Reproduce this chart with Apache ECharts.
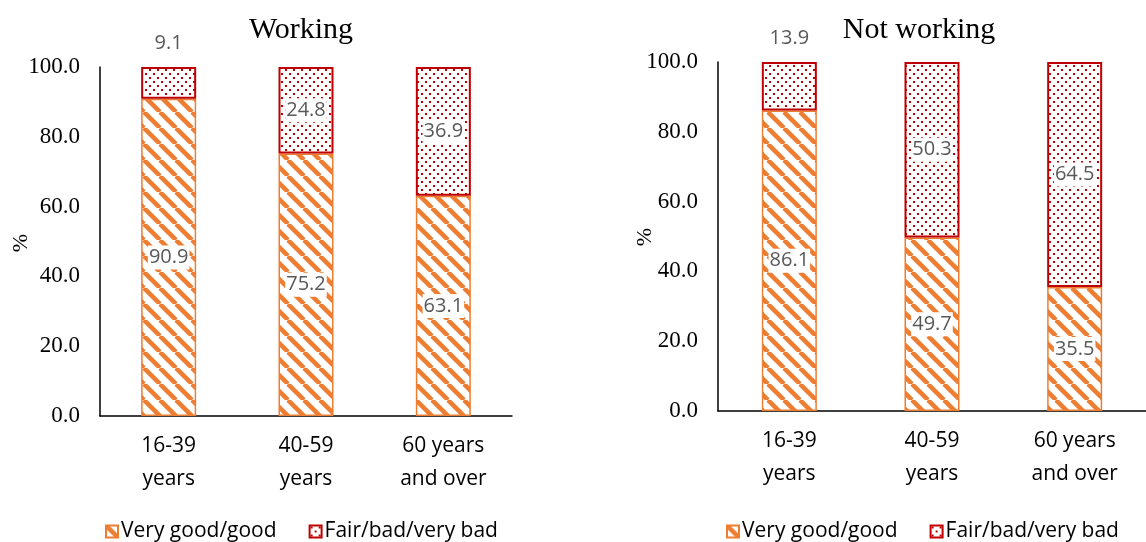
<!DOCTYPE html>
<html>
<head>
<meta charset="utf-8">
<script src="https://cdn.jsdelivr.net/npm/echarts@6/dist/echarts.min.js"></script>
<style>
  html, body { margin: 0; padding: 0; background: #fff; }
  #chart { width: 1146px; height: 542px; }
</style>
</head>
<body>
<div id="chart"></div>
<script>
const categories = ['16-39\nyears', '40-59\nyears', '60 years\nand over'];
const seriesNames = ['Very good/good', 'Fair/bad/very bad'];
const workingGood = [90.9, 75.2, 63.1];
const workingBad = [9.1, 24.8, 36.9];
const notWorkingGood = [86.1, 49.7, 35.5];
const notWorkingBad = [13.9, 50.3, 64.5];

const ORANGE = '#ED7D31';
const RED = '#C00000';
const SERIF = "'Liberation Serif', 'Times New Roman', serif";
const SANS = "'Open Sans', sans-serif";

// striped fill, lines going down to the right
function stripePattern() {
    const c = document.createElement('canvas');
    c.width = 16; c.height = 16;
    const ctx = c.getContext('2d');
    ctx.strokeStyle = ORANGE;
    ctx.lineWidth = 4.5;
    for (let o = -16; o <= 16; o += 16) {
        ctx.beginPath();
        ctx.moveTo(o, 0);
        ctx.lineTo(o + 16, 16);
        ctx.stroke();
    }
    return c;
}

// small staggered dots
function dotPattern() {
    const c = document.createElement('canvas');
    c.width = 8; c.height = 8;
    const ctx = c.getContext('2d');
    ctx.fillStyle = RED;
    ctx.fillRect(1, 1, 2, 2);
    ctx.fillRect(5, 5, 2, 2);
    return c;
}

const stripeFill = { image: stripePattern(), repeat: 'repeat' };
const dotFill = { image: dotPattern(), repeat: 'repeat' };

const labelStyle = {
    show: true,
    position: 'inside',
    color: '#595959',
    fontFamily: SANS,
    fontSize: 20,
    backgroundColor: '#fff',
    padding: [2, 1],
    formatter: p => p.value.toFixed(1)
};

function badData(values) {
    return values.map((v, i) => i === 0
        ? { value: v, label: { position: 'top', distance: 12, backgroundColor: 'transparent' } }
        : v);
}

function yAxis(idx) {
    return {
        type: 'value', gridIndex: idx, min: 0, max: 100, interval: 20,
        axisLine: { show: true, lineStyle: { color: '#000', width: 1.5 } },
        axisTick: { show: false },
        splitLine: { show: false },
        axisLabel: {
            margin: 20, color: '#000', fontFamily: SERIF, fontSize: 23,
            formatter: v => v.toFixed(1)
        }
    };
}

function xAxis(idx) {
    return {
        type: 'category', gridIndex: idx, data: categories,
        axisLine: { lineStyle: { color: '#000', width: 1.5 } },
        axisTick: { show: false },
        axisLabel: {
            margin: 14, color: '#000', fontFamily: SANS, fontSize: 21, lineHeight: 33
        }
    };
}

function bars(name, idx, values, fill, border, borderWidth) {
    return {
        name: name, type: 'bar', stack: 's' + idx,
        xAxisIndex: idx, yAxisIndex: idx,
        barWidth: 55,
        data: values,
        itemStyle: { color: fill, borderColor: border, borderWidth: borderWidth },
        label: labelStyle
    };
}

// rotated "%" axis titles
function percentName(x, y) {
    return {
        type: 'text', x: x, y: y, rotation: Math.PI / 2,
        style: { text: '%', font: "22px 'Liberation Serif'", fill: '#000',
                 align: 'center', verticalAlign: 'middle' }
    };
}

const legendBase = {
    data: seriesNames,
    icon: 'rect', itemWidth: 12, itemHeight: 12, itemGap: 32,
    top: 516,
    textStyle: { fontFamily: SANS, fontSize: 21, color: '#000', padding: [0, 0, 0, -2] }
};

const titleStyle = { fontFamily: SERIF, fontSize: 30, fontWeight: 'normal', color: '#000' };

const chart = echarts.init(document.getElementById('chart'));
chart.setOption({
    animation: false,
    title: [
        { text: 'Working', left: 296, top: 10, textAlign: 'center', textStyle: titleStyle },
        { text: 'Not working', left: 914, top: 10, textAlign: 'center', textStyle: titleStyle }
    ],
    legend: [
        Object.assign({}, legendBase, { left: 100 }),
        Object.assign({}, legendBase, { left: 721 })
    ],
    grid: [
        { left: 100, top: 67, width: 412, height: 349 },
        { left: 718, top: 62, width: 436, height: 349 }
    ],
    graphic: [percentName(21, 243), percentName(645, 237)],
    xAxis: [xAxis(0), xAxis(1)],
    yAxis: [yAxis(0), yAxis(1)],
    series: [
        bars(seriesNames[0], 0, workingGood, stripeFill, ORANGE, 1.5),
        bars(seriesNames[1], 0, badData(workingBad), dotFill, RED, 2),
        bars(seriesNames[0], 1, notWorkingGood, stripeFill, ORANGE, 1.5),
        bars(seriesNames[1], 1, badData(notWorkingBad), dotFill, RED, 2)
    ]
});
</script>
</body>
</html>
